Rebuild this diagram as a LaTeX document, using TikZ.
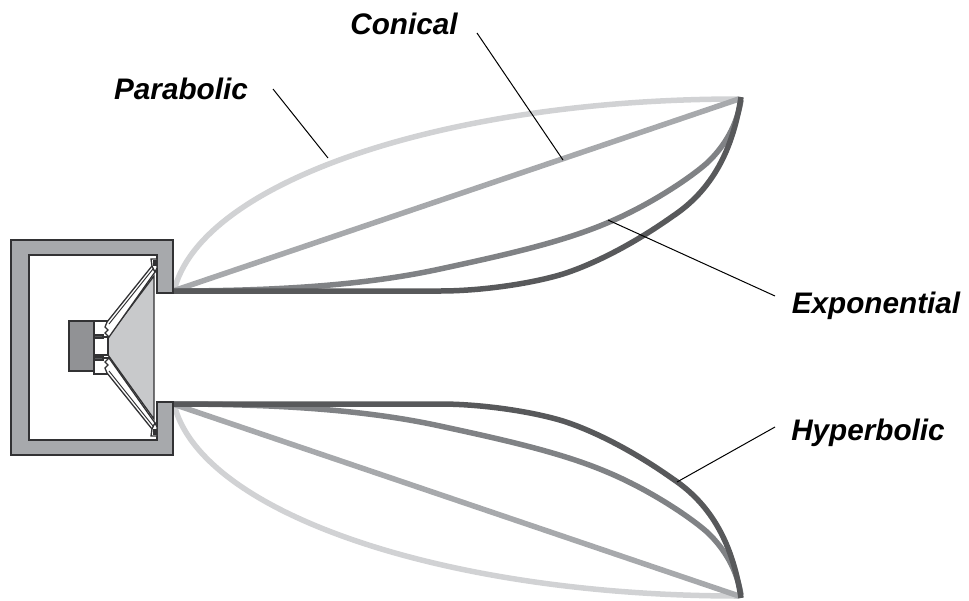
\documentclass[tikz,border=0pt]{standalone}
\usepackage{fontspec}
\setmainfont{Liberation Sans}
\usepackage{xcolor}
\usetikzlibrary{positioning}
\definecolor{cabgray}{RGB}{167,169,172}
\definecolor{magnetgray}{RGB}{145,146,149}
\definecolor{conegray}{RGB}{200,201,203}
\definecolor{parabgray}{RGB}{209,210,212}
\definecolor{conicgray}{RGB}{167,169,172}
\definecolor{expogray}{RGB}{128,130,133}
\definecolor{hypergray}{RGB}{88,89,91}
\definecolor{edgegray}{RGB}{50,50,52}

\begin{document}
\begin{tikzpicture}[
    x=1pt, y=-1pt,
    upper/.style={},
    lower/.style={shift={(0,695)}, yscale=-1},
    horn/.style={draw=#1, line width=5.5pt},
    part/.style={draw=edgegray, line width=1.3pt, fill=#1},
    leader/.style={draw=black, line width=1pt},
    lbl/.style={font=\fontsize{29.7}{32}\selectfont\bfseries\itshape, inner sep=0pt}
]
\useasboundingbox (0,0) rectangle (969,600);

% Horn profiles, top half then its mirror image
\foreach \half in {upper,lower}{
\begin{scope}[\half]
\path[horn=parabgray] (174,291) .. controls (200,182) and (445,99) .. (739,99);
\path[horn=conicgray] (173,291) -- (739,99);
\path[horn=expogray] (173,291) .. controls (300,291) and (380,282) .. (440,269)
    .. controls (500,256) and (560,243) .. (607,223) .. controls (650,205) and (690,178) .. (707,163)
    .. controls (725,146) and (737,125) .. (741,100);
\path[horn=hypergray] (173,291) -- (440,291) .. controls (480,291) and (530,284) .. (563,274)
    .. controls (585,267) and (625,250) .. (673,216) .. controls (712,190) and (733,150) .. (741,97);
\end{scope}
}

% Cabinet
\draw[part=cabgray] (11,240) -- (173,240) -- (173,293) -- (157,293) -- (157,255) -- (29,255)
    -- (29,440) -- (157,440) -- (157,402) -- (173,402) -- (173,455) -- (11,455) -- cycle;

% Driver: cone, magnet, gap
\draw[part=conegray] (108,337) -- (154,276) -- (154,419) -- (108,355) -- cycle;
\draw[part=magnetgray] (69,321) rectangle (94,371);
\draw[part=white] (94,337) rectangle (108,355);

% Driver: basket and surround, top half then its mirror image
\foreach \half in {upper,lower}{
\begin{scope}[\half]
\draw[part=white] (94,321) rectangle (108,337);
\draw[part=hypergray] (94,335) rectangle (103,338);
\draw[part=white] (107,322) -- (152,266) -- (155,272) -- (109,337) -- (105,333) -- (108,330) -- (105,327) -- cycle;
\draw[edgegray, line width=1pt] (109,324) -- (153,269);
\draw[part=white] (151,259) -- (157,259) -- (157,268) -- (155,272) -- (152,266) -- cycle;
\draw[part=hypergray] (154,261) rectangle (156,265);
\end{scope}
}

% Labels
\node[lbl] (parabolic) at (181,89) {Parabolic};
\node[lbl] (conical) at (404,24) {Conical};
\node[lbl] (exponential) at (876,306) {Exponential};
\node[lbl] (hyperbolic) at (868,433) {Hyperbolic};

\coordinate (parstart) at (273,89);
\coordinate (parend) at (328,158);
\coordinate (constart) at (477,33);
\coordinate (conend) at (563,160);
\coordinate (expstart) at (775,296);
\coordinate (expend) at (608,220);
\coordinate (hypstart) at (775,427);
\coordinate (hypend) at (677,482);
\draw[leader] (parstart) -- (parend);
\draw[leader] (constart) -- (conend);
\draw[leader] (expstart) -- (expend);
\draw[leader] (hypstart) -- (hypend);
\end{tikzpicture}
\end{document}
